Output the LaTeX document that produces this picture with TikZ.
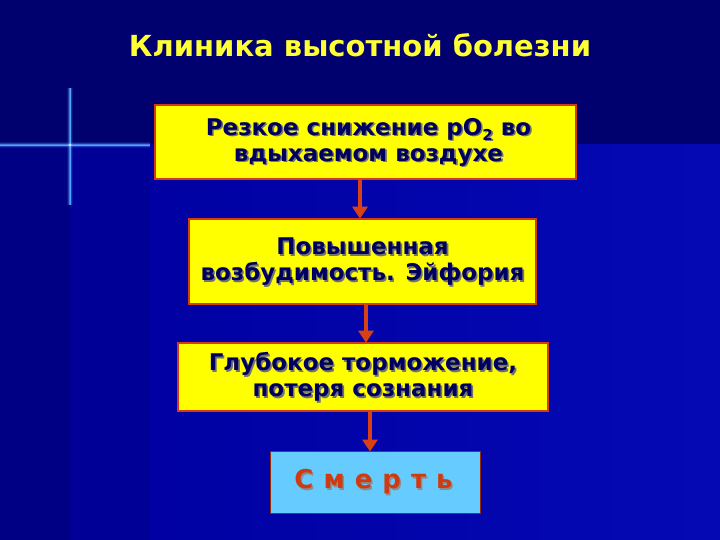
\documentclass[tikz,border=0pt]{standalone}
\usepackage{fontspec}
\setmainfont{DejaVu Sans}
\usetikzlibrary{arrows.meta}
\definecolor{bgtop}{HTML}{00006E}
\definecolor{bgleft}{HTML}{000085}
\definecolor{bgmain}{HTML}{0000A0}
\definecolor{bgright}{HTML}{0409B4}
\definecolor{boxyel}{HTML}{FFFF00}
\definecolor{boxred}{HTML}{D83A10}
\definecolor{txtnavy}{HTML}{000060}
\definecolor{titleyel}{HTML}{FFFF33}
\definecolor{deathblue}{HTML}{66CCFF}
\definecolor{deathred}{HTML}{D03A10}
\definecolor{arrred}{HTML}{D84015}
\definecolor{spark}{HTML}{5AA8FF}
\tikzset{
  ybox/.style={draw=boxred, line width=2.6pt, fill=boxyel, inner sep=0pt},
  dbox/.style={draw=boxred!70!black, line width=1pt, fill=deathblue, inner sep=0pt},
  btxt/.style={text=txtnavy, font=\fontsize{23}{26}\selectfont\bfseries, align=center, inner sep=0pt},
  bsh/.style={text=black!55, font=\fontsize{23}{26}\selectfont\bfseries, align=center, inner sep=0pt},
  dtxt/.style={font=\fontsize{26}{30}\selectfont\bfseries, inner sep=0pt},
  arr/.style={draw=arrred, line width=3.8pt, -{Triangle[length=12pt,width=15pt]}, shorten >=-1pt},
}
\begin{document}
\begin{tikzpicture}[x=1pt,y=-1pt]
\useasboundingbox (0,0) rectangle (720,540);
% background
\fill[bgtop] (0,0) rectangle (720,540);
\shade[left color=bgmain, right color=bgright] (70,145) rectangle (720,540);
\fill[bgleft] (0,145) rectangle (70,540);
\fill[bgmain!80!bgtop] (70,145) rectangle (150,540);
% sparkle
\foreach \w/\o in {6/0.12,3.5/0.25,1.5/0.6,0.6/0.9}{
  \draw[spark, line width=\w pt, opacity=\o] (70,88) -- (70,205);
  \draw[spark, line width=\w pt, opacity=\o] (0,145) -- (150,145);
}
\fill[white, opacity=0.7] (70,145) circle (1.6);
% title
\node[text=titleyel, font=\fontsize{29}{32}\selectfont\bfseries, inner sep=0pt] (title) at (360,45) {Клиника высотной болезни};
% boxes
\node[ybox, minimum width=421pt, minimum height=74pt] (b1) at (365.5,142) {};
\node[ybox, minimum width=347pt, minimum height=85pt] (b2) at (362.5,261.5) {};
\node[ybox, minimum width=370pt, minimum height=68pt] (b3) at (363,377) {};
\node[dbox, minimum width=210pt, minimum height=62pt] (b4) at (375,482) {};
% texts
\newcommand{\tA}{Резкое снижение pO\raisebox{-5pt}{\fontsize{15}{15}\selectfont 2} во\\вдыхаемом воздухе}
\newcommand{\tB}{Повышенная\\возбудимость. Эйфория}
\newcommand{\tC}{Глубокое торможение,\\потеря сознания}
\newcommand{\tD}{С\hspace{10pt}м\hspace{10pt}е\hspace{10pt}р\hspace{10pt}т\hspace{10pt}ь}
\node[bsh] at ([shift={(4.6,1.6)}]b1.center) {\tA};
\node[btxt] (t1) at ([xshift=3pt]b1.center) {\tA};
\node[bsh] at ([shift={(1.6,1.6)}]b2.center) {\tB};
\node[btxt] (t2) at (b2.center) {\tB};
\node[bsh] at ([shift={(1.6,1.6)}]b3.center) {\tC};
\node[btxt] (t3) at (b3.center) {\tC};
\node[dtxt, text=black!45] at ([shift={(0,1.5)}]b4.center) {\tD};
\node[dtxt, text=deathred] (t4) at ([xshift=-1.5pt]b4.center) {\tD};
% arrows
\coordinate (a1) at (360,0);
\coordinate (a2) at (366,0);
\coordinate (a3) at (370,0);
\draw[arr] ([yshift=1.3pt]b1.south -| a1) -- (b2.north -| a1);
\draw[arr] ([yshift=1.3pt]b2.south -| a2) -- (b3.north -| a2);
\draw[arr] ([yshift=1.3pt]b3.south -| a3) -- (b4.north -| a3);
\end{tikzpicture}
\end{document}
